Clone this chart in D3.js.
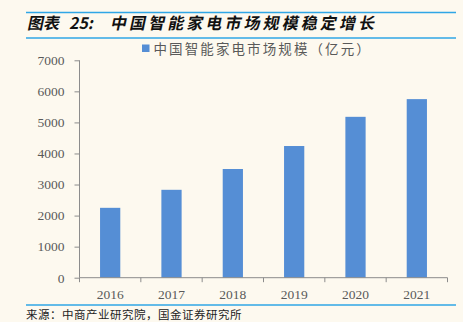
<!DOCTYPE html>
<html>
<head>
<meta charset="utf-8">
<script src="https://cdn.jsdelivr.net/npm/d3@7"></script>
<style>
  html, body { margin: 0; padding: 0; background: #fdf9ef; }
  svg { display: block; }
</style>
</head>
<body>
<svg id="chart" width="463" height="322"></svg>
<script>
// Market size of smart home appliances in China (100 million CNY)
const years = ["2016", "2017", "2018", "2019", "2020", "2021"];
const marketSize = [2250, 2830, 3500, 4240, 5180, 5750];
const yTicks = [0, 1000, 2000, 3000, 4000, 5000, 6000, 7000];
const titleLabel = ["图表", "25:"];
const titleText = "中国智能家电市场规模稳定增长";
const legendLabel = "中国智能家电市场规模（亿元）";
const sourceText = "来源：中商产业研究院，国金证券研究所";

const svg = d3.select("#chart");
const W = 463, H = 322;
const cjk = "'Noto Sans CJK SC', 'Noto Sans', sans-serif";
const serif = "'Liberation Serif', 'DejaVu Serif', serif";
const ruleColor = "#2fa6e6";
const axisColor = "#8c8c8c";
const textColor = "#595959";
const barColor = "#558ed5";

svg.append("rect").attr("width", W).attr("height", H).attr("fill", "#fdf9ef");

// Header and footer rules
[12.5, 38, 305].forEach(y => {
  svg.append("line")
    .attr("x1", 26).attr("x2", 456)
    .attr("y1", y).attr("y2", y)
    .attr("stroke", ruleColor).attr("stroke-width", 1.6);
});

// Title (bold, slanted)
const title = svg.append("text")
  .attr("transform", "translate(27,29) skewX(-12)")
  .attr("font-family", cjk).attr("font-weight", "bold")
  .attr("font-size", 16).attr("fill", "#111");
title.append("tspan").attr("x", 0).text(titleLabel[0]);
title.append("tspan").attr("x", 42).text(titleLabel[1]);
title.append("tspan").attr("x", 83).attr("letter-spacing", 3.1).text(titleText);

// Legend
svg.append("rect")
  .attr("x", 142).attr("y", 44.5).attr("width", 7.5).attr("height", 7.5)
  .attr("fill", barColor);
svg.append("text")
  .attr("x", 153.5).attr("y", 53.5)
  .attr("font-family", cjk).attr("font-size", 13.5)
  .attr("letter-spacing", 2.1)
  .attr("fill", textColor)
  .text(legendLabel);

// Scales
const x = d3.scaleBand().domain(years).range([79.5, 447.5]).paddingInner(0.67).paddingOuter(0.335);
const y = d3.scaleLinear().domain([0, 7000]).range([277.7, 60.3]);

// Y axis
const yAxis = svg.append("g")
  .attr("transform", "translate(79.5,0)")
  .call(d3.axisLeft(y).tickValues(yTicks).tickSize(5).tickPadding(10).tickFormat(d3.format("d")));
yAxis.select(".domain").attr("stroke", axisColor).attr("d", `M-0,${y(7000)}V${y(0)}`);
yAxis.selectAll(".tick line").attr("stroke", axisColor);
yAxis.selectAll(".tick text")
  .attr("font-family", serif).attr("font-size", 13.5).attr("fill", textColor);

// Bars
svg.append("g").selectAll("rect")
  .data(years.map((yr, i) => ({ yr, v: marketSize[i] })))
  .join("rect")
  .attr("x", d => x(d.yr))
  .attr("width", x.bandwidth())
  .attr("y", d => y(d.v))
  .attr("height", d => y(0) - y(d.v))
  .attr("fill", barColor);

// X axis with ticks at category boundaries
const xg = svg.append("g").attr("transform", `translate(0,${y(0)})`);
xg.append("line")
  .attr("x1", 79.5).attr("x2", 447.5)
  .attr("stroke", axisColor).attr("stroke-width", 1);
const step = x.step();
const bounds = d3.range(years.length + 1).map(i => 79.5 + i * step);
xg.selectAll(".xt").data(bounds).join("line")
  .attr("class", "xt")
  .attr("x1", d => d).attr("x2", d => d)
  .attr("y1", 0).attr("y2", 4.5)
  .attr("stroke", axisColor);
xg.selectAll(".xl").data(years).join("text")
  .attr("class", "xl")
  .attr("x", d => x(d) + x.bandwidth() / 2)
  .attr("y", 21)
  .attr("text-anchor", "middle")
  .attr("font-family", serif).attr("font-size", 13.5).attr("fill", textColor)
  .text(d => d);

// Source note
svg.append("text")
  .attr("x", 26).attr("y", 318.5)
  .attr("font-family", cjk).attr("font-size", 11.5)
  .attr("letter-spacing", 0.5)
  .attr("fill", "#222")
  .text(sourceText);
</script>
</body>
</html>
